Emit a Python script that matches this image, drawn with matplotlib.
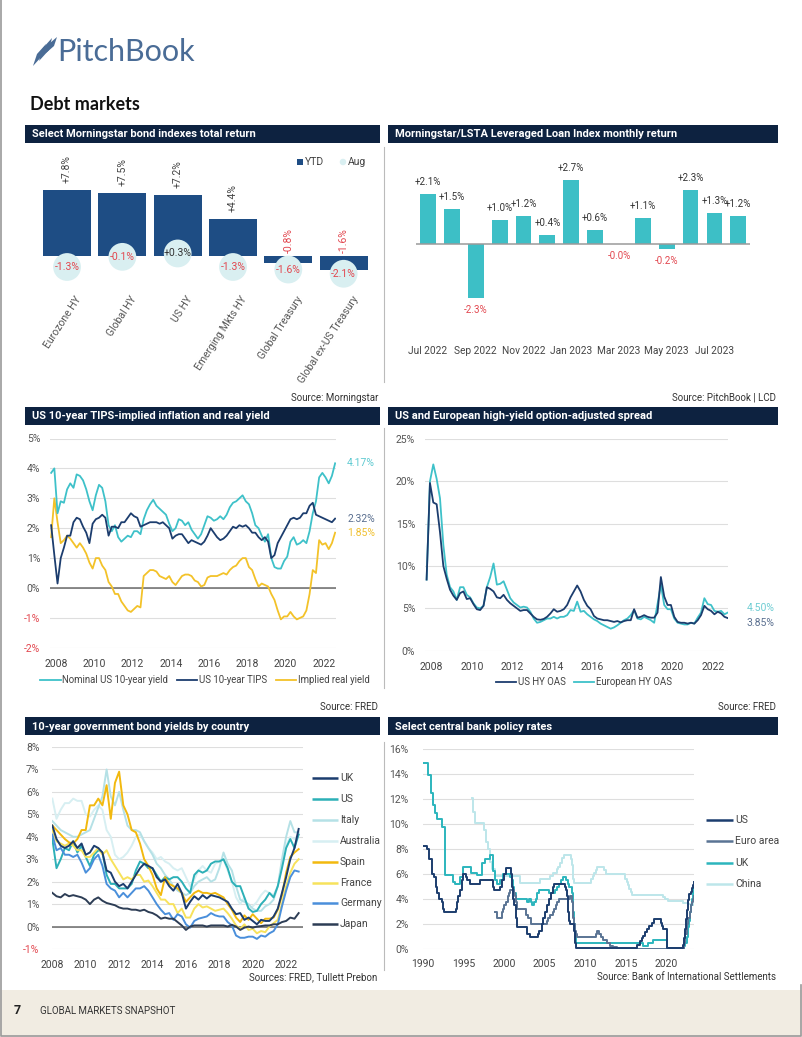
import matplotlib.pyplot as plt
import matplotlib.transforms as mtransforms
from matplotlib.patches import Rectangle, Polygon
import numpy as np

# ---- data -------------------------------------------------------------
# bond index total returns (%)
bond_idx = ['Eurozone HY', 'Global HY', 'US HY', 'Emerging Mkts HY',
            'Global Treasury', 'Global ex-US Treasury']
bond_ytd = [7.8, 7.5, 7.2, 4.4, -0.8, -1.6]
bond_aug = [-1.3, -0.1, 0.3, -1.3, -1.6, -2.1]

# LSTA leveraged loan index monthly return (%)
loan_months = ['Jul 2022', 'Aug 2022', 'Sep 2022', 'Oct 2022', 'Nov 2022', 'Dec 2022',
               'Jan 2023', 'Feb 2023', 'Mar 2023', 'Apr 2023', 'May 2023', 'Jun 2023',
               'Jul 2023', 'Aug 2023']
loan_ret = [2.1, 1.5, -2.3, 1.0, 1.2, 0.4, 2.7, 0.6, -0.02, 1.1, -0.2, 2.3, 1.3, 1.2]

# TIPS chart, bimonthly readings from late 2007
nominal_10y = [3.85, 4.0, 2.5, 2.9, 2.85, 3.3, 3.5, 3.35, 3.8, 3.75,
               3.6, 3.3, 2.9, 2.6, 3.1, 3.45, 3.35, 2.9, 2.1, 1.9,
               2.1, 1.7, 1.55, 1.65, 1.75, 1.7, 1.9, 1.9, 1.8, 2.3,
               2.6, 2.8, 2.95, 2.75, 2.65, 2.55, 2.45, 2.15, 1.9, 2.0,
               2.3, 2.25, 2.1, 2.2, 1.95, 1.8, 1.65, 1.8, 2.1, 2.4,
               2.35, 2.25, 2.3, 2.4, 2.3, 2.45, 2.7, 2.85, 2.9, 3.0,
               3.1, 2.9, 2.8, 2.5, 2.1, 2.0, 1.75, 1.55, 1.8, 1.0,
               0.7, 0.65, 0.65, 0.9, 1.05, 1.55, 1.7, 1.45, 1.5, 1.6,
               1.5, 1.9, 2.5, 2.9, 3.7, 3.85, 3.7, 3.5, 3.75, 4.17]
tips_10y = [2.1, 1.1, 0.15, 1.0, 1.35, 1.75, 1.75, 2.2, 2.35, 2.3,
            2.05, 1.85, 1.5, 2.15, 2.3, 2.35, 2.45, 2.35, 1.75, 2.05,
            2.05, 2.0, 2.2, 2.2, 2.35, 2.5, 2.4, 2.35, 2.05, 2.1,
            2.15, 2.2, 2.2, 2.2, 2.15, 2.2, 2.1, 2.0, 1.65, 1.75,
            1.8, 1.8, 1.65, 1.5, 1.6, 1.55, 1.5, 1.45, 1.55, 1.75,
            2.0, 1.85, 1.7, 1.6, 1.65, 1.75, 1.9, 2.05, 2.0, 2.1,
            2.05, 2.1, 2.0, 1.85, 1.85, 1.7, 1.6, 1.7, 1.55, 1.0,
            1.1, 1.5, 1.7, 1.9, 2.1, 2.3, 2.35, 2.3, 2.35, 2.5,
            2.5, 2.75, 2.85, 2.45, 2.4, 2.35, 2.3, 2.25, 2.2, 2.32]
real_yield = [1.7, 3.0, 2.2, 1.5, 1.6, 1.75, 1.65, 1.5, 1.35, 1.5,
              1.35, 1.15, 0.85, 0.65, 1.0, 1.0, 0.75, 0.6, 0.2, 0.05,
              -0.2, -0.2, -0.45, -0.6, -0.75, -0.8, -0.7, -0.6, -0.65, 0.4,
              0.5, 0.6, 0.6, 0.55, 0.4, 0.35, 0.3, 0.4, 0.2, 0.1,
              0.25, 0.4, 0.45, 0.45, 0.4, 0.25, 0.2, 0.05, 0.1, 0.35,
              0.4, 0.4, 0.4, 0.45, 0.5, 0.45, 0.6, 0.7, 0.75, 0.9,
              1.0, 1.0, 0.7, 0.6, 0.3, 0.05, 0.15, 0.1, 0.05, -0.2,
              -0.4, -0.75, -1.05, -0.95, -0.95, -0.8, -0.95, -1.05, -1.0, -0.95,
              -0.75, -0.2, 0.6, 0.5, 1.6, 1.45, 1.5, 1.3, 1.5, 1.85]

# high-yield OAS (%), bimonthly from late 2007
us_hy_oas = [8.4, 19.8, 17.5, 17.3, 14.0, 10.0, 8.5, 7.2, 6.5, 6.0,
             6.8, 7.0, 6.1, 6.2, 5.5, 4.9, 4.8, 5.3, 7.5, 7.3,
             7.0, 6.3, 6.2, 6.6, 6.0, 5.6, 5.3, 5.0, 4.7, 4.8,
             4.8, 4.4, 4.0, 3.7, 3.65, 3.75, 4.0, 4.4, 4.9, 4.6,
             4.7, 4.9, 5.4, 6.3, 7.0, 7.7, 7.0, 6.0, 5.3, 4.9,
             4.1, 3.8, 3.7, 3.6, 3.6, 3.5, 3.4, 3.5, 3.35, 3.5,
             3.6, 3.6, 4.9, 3.9, 4.0, 4.2, 4.0, 3.9, 3.9, 4.5,
             8.7, 6.4, 5.4, 5.4, 4.0, 3.4, 3.3, 3.3, 3.2, 3.3,
             3.2, 3.6, 4.2, 5.3, 4.9, 4.7, 4.3, 4.6, 4.4, 4.0,
             3.85]
eu_hy_oas = [8.4, 20.0, 22.0, 20.3, 18.0, 12.5, 9.0, 7.5, 7.0, 6.0,
             7.5, 7.5, 6.6, 6.3, 5.6, 5.1, 5.0, 5.3, 7.5, 8.7,
             10.3, 7.8, 7.9, 8.2, 7.2, 6.2, 5.7, 5.4, 5.1, 5.2,
             5.1, 4.6, 3.8, 3.3, 3.4, 3.6, 3.8, 3.8, 4.0, 3.8,
             4.0, 4.0, 4.2, 4.8, 4.7, 5.8, 4.6, 4.7, 4.3, 4.0,
             3.7, 3.5, 3.2, 3.0, 2.8, 2.6, 2.75, 3.0, 3.3, 3.6,
             3.8, 4.2, 4.8, 3.8, 3.7, 4.0, 3.8, 3.6, 3.3, 5.5,
             7.8, 5.4, 4.9, 4.9, 3.8, 3.3, 3.2, 3.1, 3.1, 3.3,
             3.2, 3.9, 4.5, 6.2, 5.5, 5.4, 4.7, 4.6, 4.7, 4.3,
             4.5]

# 10-year government bond yields (%), quarterly from 2008
uk_10y = [4.5, 3.9, 3.6, 3.5, 3.6, 3.8, 3.5, 3.7, 3.2, 3.3,
          3.6, 3.5, 3.3, 2.5, 2.4, 2.0, 1.8, 1.9, 1.7, 2.0,
          2.3, 2.6, 2.8, 2.7, 2.6, 2.2, 2.0, 2.1, 1.8, 1.6,
          1.9, 1.5, 0.8, 1.1, 1.35, 1.2, 1.4, 1.25, 1.4, 1.35,
          1.3, 1.2, 1.1, 0.8, 0.55, 0.6, 0.3, 0.4, 0.25, 0.1,
          0.3, 0.25, 0.25, 0.45, 0.8, 1.5, 2.2, 3.0, 3.5, 4.35]
us_10y = [3.9, 2.6, 3.0, 3.5, 3.4, 3.8, 3.3, 3.6, 3.1, 2.7,
          3.2, 3.4, 3.3, 2.3, 1.9, 1.9, 1.7, 1.7, 1.7, 1.9,
          2.5, 2.9, 2.8, 2.6, 2.6, 2.3, 2.0, 2.2, 2.1, 2.2,
          2.2, 2.0, 1.7, 1.5, 2.3, 2.5, 2.4, 2.5, 2.8, 2.9,
          2.9, 3.0, 2.6, 2.0, 1.8, 1.8, 1.3, 0.8, 0.65, 0.7,
          1.0, 1.2, 1.5, 1.3, 1.8, 2.6, 3.5, 3.9, 3.5, 4.1]
italy_10y = [4.7, 4.5, 4.3, 4.2, 4.1, 4.0, 4.0, 4.1, 4.2, 4.3,
             4.8, 5.3, 5.8, 7.0, 5.8, 5.4, 6.0, 5.2, 4.5, 4.3,
             4.3, 4.2, 3.8, 3.5, 3.2, 2.8, 2.6, 2.3, 2.1, 1.8,
             1.6, 1.5, 1.4, 1.5, 1.8, 2.0, 2.1, 2.2, 2.0, 2.1,
             2.6, 3.3, 2.8, 2.5, 1.8, 1.2, 1.1, 1.0, 0.8, 0.7,
             0.7, 0.9, 1.0, 1.2, 1.8, 3.0, 4.0, 4.7, 4.2, 4.2]
australia_10y = [5.7, 4.8, 5.2, 5.5, 5.5, 5.7, 5.6, 5.6, 5.0, 4.9,
                 5.2, 5.4, 5.2, 4.3, 4.0, 3.2, 3.0, 3.1, 3.3, 3.6,
                 4.0, 4.1, 3.8, 3.5, 3.3, 3.0, 3.1, 2.9, 2.8, 2.6,
                 2.5, 2.6, 2.2, 1.8, 2.1, 2.5, 2.7, 2.5, 2.4, 2.8,
                 2.9, 3.0, 2.5, 2.0, 1.3, 1.0, 1.3, 0.8, 0.9, 1.1,
                 1.4, 1.6, 1.5, 1.4, 1.8, 2.7, 3.6, 4.0, 3.9, 4.1]
spain_10y = [4.5, 4.3, 4.1, 3.9, 3.75, 3.7, 3.9, 4.3, 4.3, 5.4,
             5.4, 5.7, 5.4, 6.3, 4.8, 6.4, 6.9, 5.4, 5.0, 4.3,
             4.2, 3.7, 3.0, 2.7, 2.3, 1.7, 1.4, 2.2, 1.9, 1.8,
             1.7, 1.5, 1.1, 1.3, 1.5, 1.6, 1.5, 1.5, 1.45, 1.5,
             1.4, 1.3, 1.0, 0.75, 0.4, 0.2, 0.5, 0.3, 0.55, 0.35,
             0.15, 0.35, 0.35, 0.4, 0.75, 1.4, 2.4, 3.1, 3.3, 3.45]
france_10y = [4.3, 3.8, 3.7, 3.6, 3.7, 3.6, 3.4, 3.4, 3.1, 3.1,
              3.3, 3.5, 3.2, 3.4, 3.0, 2.7, 2.4, 2.1, 2.2, 2.1,
              2.3, 2.3, 2.0, 2.05, 1.8, 1.5, 1.2, 1.2, 1.0, 1.0,
              0.6, 0.8, 0.4, 0.4, 0.8, 1.0, 0.85, 0.9, 0.8, 0.7,
              0.75, 0.8, 0.6, 0.35, 0.05, -0.1, 0.1, -0.15, -0.1, -0.3,
              -0.2, -0.25, 0.0, 0.15, 0.3, 1.0, 1.8, 2.4, 2.8, 3.0]
germany_10y = [4.1, 3.4, 3.5, 3.2, 3.2, 3.1, 3.2, 2.85, 2.4, 2.6,
               3.0, 3.2, 2.7, 1.9, 1.7, 1.6, 1.3, 1.5, 1.3, 1.5,
               1.7, 1.7, 1.8, 1.6, 1.3, 1.0, 0.75, 0.55, 0.6, 0.3,
               0.55, 0.45, 0.1, -0.05, 0.25, 0.35, 0.4, 0.45, 0.6, 0.5,
               0.45, 0.45, 0.2, 0.05, -0.4, -0.5, -0.5, -0.45, -0.45, -0.55,
               -0.4, -0.45, -0.3, -0.2, 0.1, 0.9, 1.6, 2.2, 2.5, 2.45]
japan_10y = [1.5, 1.35, 1.3, 1.45, 1.35, 1.4, 1.35, 1.3, 1.2, 1.0,
             1.2, 1.3, 1.15, 1.05, 1.0, 0.95, 0.85, 0.8, 0.8, 0.75,
             0.75, 0.7, 0.75, 0.65, 0.6, 0.5, 0.35, 0.4, 0.35, 0.35,
             0.2, 0.05, -0.15, 0.0, 0.05, 0.05, 0.05, 0.0, 0.05, 0.05,
             0.05, 0.05, 0.0, 0.08, 0.0, -0.15, -0.05, 0.0, -0.05, 0.0,
             0.02, 0.05, 0.05, 0.1, 0.1, 0.2, 0.25, 0.4, 0.35, 0.6]

# central bank policy rates (%), change dates and new levels
us_rate_dates = [1990.0, 1990.57, 1990.82, 1991.1, 1991.4, 1991.64, 1991.8, 1991.97, 1992.34,
                 1992.46, 1992.66, 1994.1, 1994.26, 1994.39, 1994.59, 1994.8, 1995.0, 1995.33,
                 1995.49, 1995.82, 1997.05, 1998.69, 1998.81, 1999.51, 1999.71, 2000.0, 2000.2,
                 2000.86, 2000.98, 2001.15, 2001.27, 2001.48, 2001.56, 2001.64, 2002.79, 2003.2,
                 2004.14, 2004.34, 2004.63, 2004.84, 2005.04, 2005.33, 2005.57, 2005.78, 2005.98,
                 2006.19, 2007.5, 2007.62, 2007.7, 2007.79, 2007.91, 2007.99, 2008.11, 2008.61,
                 2008.73, 2008.85, 2016.39, 2016.72, 2016.93, 2017.13, 2017.34, 2017.62, 2017.87,
                 2018.16, 2018.44, 2019.3, 2019.39, 2019.51, 2020.0, 2022.05, 2022.17, 2022.3,
                 2022.42, 2022.54, 2022.66, 2022.79, 2022.95, 2023.07, 2023.2, 2023.32]
us_rate = [8.25, 8.0, 7.25, 6.0, 5.75, 5.0, 4.5, 4.0, 3.75,
           3.25, 3.0, 3.25, 3.75, 4.25, 4.75, 5.5, 6.0, 5.75,
           5.5, 5.25, 5.5, 5.0, 4.75, 5.0, 5.5, 6.0, 6.5,
           6.0, 5.0, 4.0, 3.5, 2.5, 2.0, 1.75, 1.25, 1.0,
           1.25, 1.5, 2.0, 2.5, 3.0, 3.5, 4.0, 4.5, 5.0,
           5.25, 5.0, 4.75, 4.5, 4.25, 3.0, 2.25, 2.0, 1.5,
           0.5, 0.125, 0.375, 0.625, 0.9, 1.1, 1.4, 1.6, 1.9,
           2.1, 2.4, 2.1, 1.9, 1.6, 0.125, 0.375, 0.9, 1.6,
           2.4, 3.1, 3.9, 4.4, 4.6, 4.9, 5.1, 5.4]
euro_rate_dates = [1998.89, 1999.18, 1999.71, 1999.92, 2000.04, 2000.2, 2000.45, 2000.61,
                   2000.74, 2001.27, 2001.35, 2001.48, 2001.64, 2002.7, 2002.99, 2003.28,
                   2005.25, 2005.45, 2005.66, 2005.98, 2006.15, 2006.35, 2006.56, 2006.76,
                   2008.11, 2008.32, 2008.44, 2008.52, 2008.61, 2008.73, 2008.81, 2008.93,
                   2011.31, 2011.48, 2011.72, 2011.89, 2012.13, 2012.62, 2013.03, 2013.36,
                   2013.85, 2014.67, 2022.13, 2022.3, 2022.46, 2022.66, 2022.87, 2022.99,
                   2023.11, 2023.2, 2023.32]
euro_rate = [3.0, 2.5, 3.0, 3.25, 3.5, 3.75, 4.25, 4.5,
             4.75, 4.5, 4.25, 3.75, 3.25, 2.75, 2.5, 2.0,
             2.25, 2.5, 2.75, 3.0, 3.25, 3.5, 3.75, 4.0,
             4.25, 3.75, 3.25, 2.5, 2.0, 1.5, 1.25, 1.0,
             1.25, 1.5, 1.25, 1.0, 0.75, 0.5, 0.25, 0.15,
             0.05, 0.0, 0.5, 1.25, 2.0, 2.5, 3.0, 3.5,
             3.75, 4.0, 4.25]
uk_rate_dates = [1990.0, 1990.7, 1991.0, 1991.25, 1991.5, 1991.7, 1992.35, 1992.75, 1993.75,
                 1994.0, 1994.6, 1995.0, 1996.0, 1996.65, 1997.25, 1997.65, 1998.3, 1998.7,
                 1998.9, 1999.2, 1999.5, 1999.85, 2000.75, 2000.95, 2001.1, 2001.25, 2001.5,
                 2002.8, 2003.1, 2003.3, 2003.5, 2003.7, 2003.9, 2004.1, 2004.35, 2005.55,
                 2006.3, 2006.5, 2006.8, 2007.0, 2007.2, 2007.6, 2007.9, 2008.0, 2008.4,
                 2008.5, 2008.6, 2008.75, 2008.9, 2017.1, 2017.75, 2018.35, 2020.0, 2022.1,
                 2022.3, 2022.45, 2022.6, 2022.75, 2022.9, 2023.0, 2023.1, 2023.2, 2023.32]
uk_rate = [14.9, 13.9, 12.5, 11.5, 10.9, 10.4, 9.8, 5.9, 5.4,
           5.25, 5.75, 6.6, 6.1, 5.9, 6.9, 7.2, 7.5, 6.25,
           5.5, 5.2, 5.5, 6.0, 5.75, 5.5, 5.0, 4.5, 4.0,
           3.75, 4.0, 3.75, 3.5, 3.75, 4.0, 4.5, 4.75, 4.5,
           4.75, 5.0, 5.25, 5.5, 5.75, 5.5, 5.25, 5.0, 4.5,
           3.0, 2.0, 1.0, 0.5, 0.25, 0.5, 0.75, 0.1, 0.25,
           0.5, 1.0, 1.75, 2.25, 3.0, 3.5, 4.0, 4.5, 5.0]
china_rate_dates = [1996.02, 1996.23, 1996.43, 1997.54, 1997.79, 1998.07, 1998.28, 1998.48,
                    1998.89, 2001.97, 2004.43, 2005.66, 2006.07, 2006.48, 2006.68, 2006.89,
                    2007.09, 2007.38, 2008.24, 2008.36, 2008.44, 2008.52, 2008.61, 2010.7,
                    2010.9, 2011.11, 2011.31, 2011.48, 2012.34, 2012.54, 2014.88, 2015.08,
                    2015.29, 2015.41, 2015.57, 2015.7, 2019.51, 2019.8, 2020.2, 2021.97,
                    2022.66, 2023.32]
china_rate = [12.06, 11.0, 10.1, 9.5, 8.6, 8.0, 7.0, 6.4,
              5.85, 5.3, 5.6, 5.85, 6.1, 6.4, 6.6, 6.9,
              7.3, 7.5, 7.2, 6.7, 6.0, 5.6, 5.3, 5.6,
              5.85, 6.1, 6.3, 6.6, 6.3, 6.0, 5.6, 5.35,
              5.1, 4.85, 4.6, 4.35, 4.15, 4.05, 3.85, 3.7,
              3.65, 3.55]

# ---- style ------------------------------------------------------------
plt.rcParams['font.family'] = ['Roboto', 'DejaVu Sans']
HEADER = '#0d2240'
BAR_NAVY = '#1e4d84'
CIRCLE = '#d9eff1'
TEAL = '#3dbfc6'
RED = '#e2474f'
CYAN = '#3ec1c9'
NAVY = '#1c3d6e'
YELLOW = '#f3c229'
GRID = '#dedede'
TICK = '#555555'
FS = 7.5

W, H = 802, 1037
fig = plt.figure(figsize=(W / 100, H / 100), dpi=100)


def box(x0, y0, x1, y1):
    return [x0 / W, 1 - y1 / H, (x1 - x0) / W, (y1 - y0) / H]


bg = fig.add_axes([0, 0, 1, 1])
bg.set_xlim(0, W)
bg.set_ylim(H, 0)
bg.axis('off')

# page frame, logo, title, footer
bg.add_patch(Rectangle((0, 990), W, 47, color='#f1ece2', lw=0))
bg.plot([1, 1, W - 1, W - 1], [0, H - 1, H - 1, 985], color='#9a9a9a', lw=1.2)
logo_c = '#4a6c96'
bg.add_patch(Polygon([(33, 66), (37, 54), (46, 44), (43, 55)], color=logo_c, lw=0))
bg.add_patch(Polygon([(39, 61), (43, 48), (52, 38), (49, 50)], color=logo_c, lw=0))
bg.add_patch(Polygon([(46, 53), (50, 43), (57, 37), (54, 46)], color=logo_c, lw=0))
bg.text(57, 52, 'PitchBook', fontsize=22, color=logo_c, va='center', ha='left',
        family=['Lato', 'DejaVu Sans'])
bg.text(30, 104, 'Debt markets', fontsize=13, fontweight='bold', color='#111111',
        va='center', ha='left', family=['Lato', 'DejaVu Sans'])
bg.text(14, 1011, '7', fontsize=9, fontweight='bold', color='#222222', va='center')
bg.text(40, 1011, 'GLOBAL MARKETS SNAPSHOT', fontsize=7, color='#333333', va='center')


def header(x0, x1, y0, title):
    bg.add_patch(Rectangle((x0, y0), x1 - x0, 18, color=HEADER, lw=0))
    bg.text(x0 + 7, y0 + 9.5, title, color='white', fontsize=8, fontweight='bold',
            va='center', ha='left')


def source(x, y, s):
    bg.text(x, y, s, fontsize=7, color='#333333', ha='right', va='center')


header(25, 380, 124.5, 'Select Morningstar bond indexes total return')
header(388, 778, 124.5, 'Morningstar/LSTA Leveraged Loan Index monthly return')
header(25, 380, 406.5, 'US 10-year TIPS-implied inflation and real yield')
header(388, 778, 406.5, 'US and European high-yield option-adjusted spread')
header(25, 380, 717, '10-year government bond yields by country')
header(388, 778, 717, 'Select central bank policy rates')
source(378, 398, 'Source: Morningstar')
source(776, 398, 'Source: PitchBook | LCD')
source(378, 707, 'Source: FRED')
source(776, 707, 'Source: FRED')
source(377, 977, 'Sources: FRED, Tullett Prebon')
source(776, 977, 'Source: Bank of International Settlements')
for y0, y1 in [(147, 382), (428, 688), (742, 970)]:
    bg.plot([384, 384], [y0, y1], color='#bbbbbb', lw=0.8)


def line_legend(handles, cx, cy):
    leg = fig.legend(handles=handles, loc='center', bbox_to_anchor=(cx / W, 1 - cy / H),
                     ncol=len(handles), frameon=False, fontsize=6.9, handlelength=2.1,
                     handletextpad=0.2, columnspacing=0.9, borderaxespad=0)
    for t in leg.get_texts():
        t.set_color('#444444')


def pct_axis(ax, ticks, dark_zero=False):
    ax.set_facecolor('none')
    for s in ax.spines.values():
        s.set_visible(False)
    ax.set_yticks(ticks)
    ax.set_yticklabels([f'{t:g}%' for t in ticks])
    for t, lab in zip(ticks, ax.get_yticklabels()):
        lab.set_color(RED if t < 0 else TICK)
    ax.grid(axis='y', color=GRID, lw=0.8)
    ax.set_axisbelow(True)
    ax.tick_params(length=0, labelsize=FS)
    ax.tick_params(axis='x', colors='#444444')
    if dark_zero:
        ax.axhline(0, color='#6b6b6b', lw=1.1, zorder=1.5)


# ---- panel 1: bond index returns -------------------------------------
ax1 = fig.add_axes(box(39.4, 150, 371.3, 290))
ax1.set_facecolor('none')
x1 = np.arange(len(bond_idx))
ax1.bar(x1, bond_ytd, width=0.87, color=BAR_NAVY, zorder=2)
ax1.scatter(x1, bond_aug, s=400, color=CIRCLE, edgecolors='none', zorder=3)
for i, (v, a) in enumerate(zip(bond_ytd, bond_aug)):
    ax1.annotate(f'{v:+.1f}%', (i, max(v, 0)), xytext=(0, 7 if v > 0 else 3),
                 textcoords='offset pixels', rotation=90, ha='center', va='bottom',
                 fontsize=FS, color=RED if v < 0 else '#444444')
    ax1.text(i, a, f'{a:+.1f}%', ha='center', va='center', fontsize=FS, zorder=4,
             color=RED if a < 0 else '#333333')
ax1.set_xlim(-0.5, len(bond_idx) - 0.5)
ax1.set_ylim(-4.02, 12.53)
ax1.set_yticks([])
for s in ax1.spines.values():
    s.set_visible(False)
ax1.set_xticks(x1, bond_idx, rotation=57, ha='right', rotation_mode='anchor')
ax1.tick_params(length=0, labelsize=7.5, colors=TICK, pad=3)
shift = mtransforms.ScaledTranslation(0.08, 0, fig.dpi_scale_trans)
for lab in ax1.get_xticklabels():
    lab.set_transform(lab.get_transform() + shift)
bg.add_patch(Rectangle((297, 159), 6, 6, color=BAR_NAVY, lw=0))
bg.text(305, 162, 'YTD', fontsize=FS, color='#444444', va='center')
bg.scatter([343], [162], s=22, color=CIRCLE, edgecolors='none')
bg.text(348, 162, 'Aug', fontsize=FS, color='#444444', va='center')

# ---- panel 2: leveraged loan returns ---------------------------------
ax2 = fig.add_axes(box(416.1, 160, 750.2, 340))
ax2.set_facecolor('none')
x2 = np.arange(len(loan_months))
ax2.bar(x2, loan_ret, width=0.66, color=TEAL, zorder=2)
ax2.axhline(0, color='#9a9a9a', lw=1.1, zorder=3)
for i, v in enumerate(loan_ret):
    ax2.annotate(f'{v:+.1f}%', (i, v), xytext=(0, 12 if v > 0 else -12),
                 textcoords='offset pixels', ha='center', va='center', fontsize=7,
                 color=RED if v < 0 else '#333333')
ax2.set_xlim(-0.5, len(loan_months) - 0.5)
ax2.set_ylim(-4.07, 3.56)
ax2.set_yticks([])
for s in ax2.spines.values():
    s.set_visible(False)
ax2.set_xticks(x2[::2], loan_months[::2])
ax2.tick_params(length=0, labelsize=7.3, colors='#444444', pad=4)

# ---- panel 3: TIPS ----------------------------------------------------
ax3 = fig.add_axes(box(50, 438.5, 336, 647.8))
t3 = 2007.75 + np.arange(len(nominal_10y)) / 6
pct_axis(ax3, list(range(-2, 6)), dark_zero=True)
l_real, = ax3.plot(t3, real_yield, color=YELLOW, lw=1.3, zorder=3)
l_tips, = ax3.plot(t3, tips_10y, color=NAVY, lw=1.3, zorder=4)
l_nom, = ax3.plot(t3, nominal_10y, color=CYAN, lw=1.3, zorder=3.5)
ax3.set_xlim(2007.69, 2022.63)
ax3.set_ylim(-2, 5)
ax3.set_xticks(range(2008, 2023, 2))
ax3.tick_params(axis='y', pad=7)
ax3.tick_params(axis='x', pad=8)
for series, col in [(nominal_10y, '#5fcad1'), (tips_10y, '#5b7090'), (real_yield, '#f0c030')]:
    ax3.annotate(f'{series[-1]:.2f}%', (t3[-1], series[-1]), xytext=(12, 0),
                 textcoords='offset pixels', va='center', ha='left', fontsize=FS,
                 color=col, annotation_clip=False)
l_nom.set_label('Nominal US 10-year yield')
l_tips.set_label('US 10-year TIPS')
l_real.set_label('Implied real yield')
line_legend([l_nom, l_tips, l_real], 205, 680)

# ---- panel 4: HY OAS --------------------------------------------------
ax4 = fig.add_axes(box(425, 439, 728, 650.7))
t4 = 2007.75 + np.arange(len(us_hy_oas)) / 6
pct_axis(ax4, list(range(0, 26, 5)))
l_eu, = ax4.plot(t4, eu_hy_oas, color=CYAN, lw=1.3, zorder=3, label='European HY OAS')
l_us, = ax4.plot(t4, us_hy_oas, color=NAVY, lw=1.3, zorder=4, label='US HY OAS')
ax4.set_xlim(2007.67, 2022.76)
ax4.set_ylim(0, 25)
ax4.set_xticks(range(2008, 2023, 2))
ax4.tick_params(axis='y', pad=7)
ax4.tick_params(axis='x', pad=8)
ax4.annotate(f'{eu_hy_oas[-1]:.2f}%', (t4[-1], eu_hy_oas[-1]), xytext=(19, 5),
             textcoords='offset pixels', va='center', ha='left', fontsize=FS,
             color='#6fcdd3', annotation_clip=False)
ax4.annotate(f'{us_hy_oas[-1]:.2f}%', (t4[-1], us_hy_oas[-1]), xytext=(19, -5),
             textcoords='offset pixels', va='center', ha='left', fontsize=FS,
             color='#5b7090', annotation_clip=False)
line_legend([l_us, l_eu], 584, 682)

# ---- panel 5: government bond yields ---------------------------------
ax5 = fig.add_axes(box(52, 747, 303, 949))
t5 = 2008 + np.arange(len(uk_10y)) / 4
pct_axis(ax5, list(range(-1, 9)), dark_zero=True)
country_style = [('UK', uk_10y, '#1c3d6e'), ('US', us_10y, '#2cb0b7'),
                 ('Italy', italy_10y, '#b5e1e6'), ('Australia', australia_10y, '#d7eff2'),
                 ('Spain', spain_10y, '#f2b90f'), ('France', france_10y, '#f7e25c'),
                 ('Germany', germany_10y, '#4a8fdb'), ('Japan', japan_10y, '#2d3d55')]
draw_order = ['Australia', 'Italy', 'US', 'France', 'Germany', 'Spain', 'UK', 'Japan']
lookup = {n: (v, c) for n, v, c in country_style}
for z, name in enumerate(draw_order):
    vals, col = lookup[name]
    ax5.plot(t5, vals, color=col, lw=1.4, zorder=3 + z * 0.1)
ax5.set_xlim(2007.98, 2023.01)
ax5.set_ylim(-1, 8)
ax5.set_xticks(range(2008, 2023, 2))
ax5.tick_params(axis='y', pad=9)
ax5.tick_params(axis='x', pad=8)
for k, (name, vals, col) in enumerate(country_style):
    y = 778 + k * 20.9
    bg.plot([312, 338], [y, y], color=col, lw=1.8, solid_capstyle='butt')
    bg.text(340, y, name, va='center', ha='left', fontsize=FS, color='#444444')

# ---- panel 6: policy rates -------------------------------------------
ax6 = fig.add_axes(box(422.7, 749, 694, 949.3))
pct_axis(ax6, list(range(0, 17, 2)))
rate_style = [('US', us_rate_dates, us_rate, '#1c3d6e'),
              ('Euro area', euro_rate_dates, euro_rate, '#5a7494'),
              ('UK', uk_rate_dates, uk_rate, '#2cb5bd'),
              ('China', china_rate_dates, china_rate, '#bde6ea')]
for z, (name, d, v, col) in enumerate(reversed(rate_style)):
    ax6.plot(d, v, drawstyle='steps-post', color=col, lw=1.4, zorder=3 + z * 0.1)
ax6.set_xlim(1990, 2023.37)
ax6.set_ylim(0, 16)
ax6.set_xticks(range(1990, 2021, 5))
ax6.tick_params(axis='y', pad=10)
ax6.tick_params(axis='x', pad=7)
for k, (name, d, v, col) in enumerate(rate_style):
    y = 820 + k * 21.3
    bg.plot([706, 733], [y, y], color=col, lw=1.8, solid_capstyle='butt')
    bg.text(735, y, name, va='center', ha='left', fontsize=FS, color='#444444')

fig.savefig('out.png', dpi=100)
